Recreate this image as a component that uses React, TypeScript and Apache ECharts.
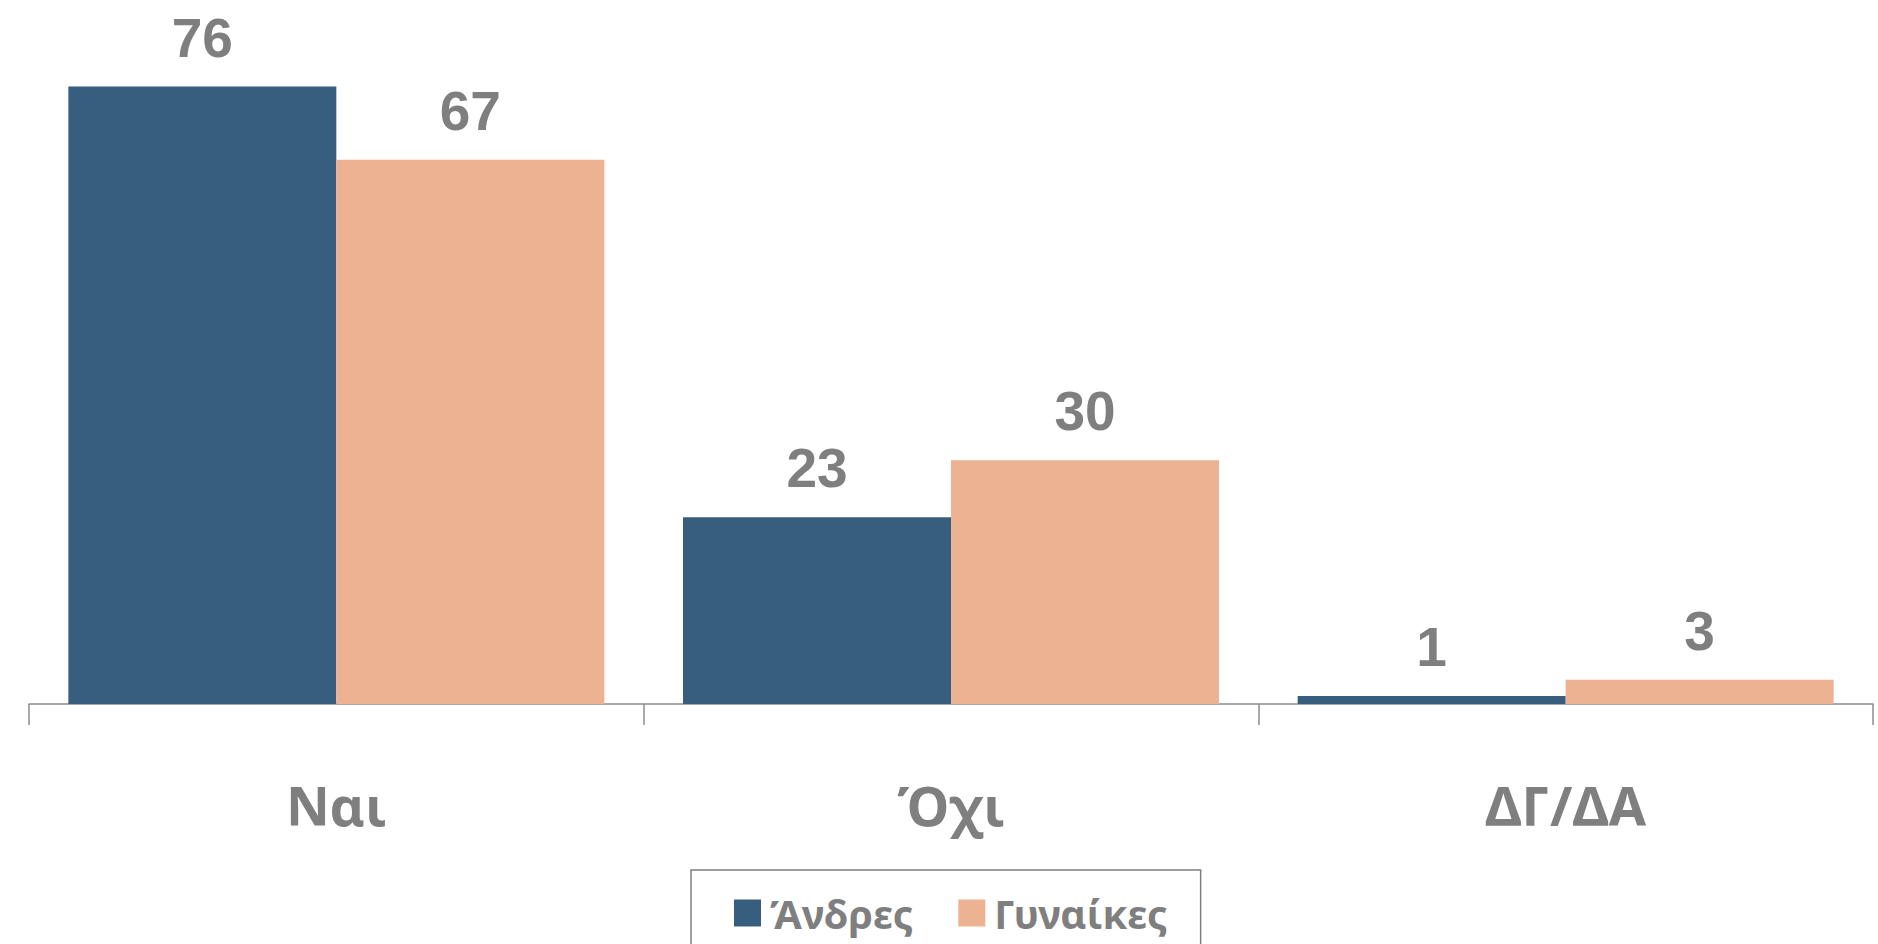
import React, { useEffect, useRef } from "react";
import * as echarts from "echarts";

const categories = ["Ναι", "Όχι", "ΔΓ/ΔΑ"];
const seriesNames = ["Άνδρες", "Γυναίκες"];
const men = [76, 23, 1];
const women = [67, 30, 3];
const colors = ["#375E7F", "#ECB292"];

const FONT = "'Noto Sans', 'DejaVu Sans', sans-serif";
const NUM_FONT = "'Liberation Sans', Arial, sans-serif";
const GREY = "#7F7F7F";

export default function App() {
  const ref = useRef<HTMLDivElement>(null);
  useEffect(() => {
    document.body.style.margin = "0";
    const chart = echarts.init(ref.current!, null, { renderer: "svg" });
    const label = {
      show: true,
      position: "top" as const,
      distance: 27,
      color: GREY,
      fontFamily: NUM_FONT,
      fontWeight: "bold" as const,
      fontSize: 55,
      lineHeight: 44,
    };
    chart.setOption({
      animation: false,
      backgroundColor: "#ffffff",
      grid: { left: 29, right: 5, top: 54, bottom: 240, containLabel: false },
      legend: {
        left: 691,
        top: 870,
        padding: [23, 33, 60, 43],
        borderColor: GREY,
        borderWidth: 1.5,
        itemWidth: 27,
        itemHeight: 27,
        itemGap: 45,
        icon: "rect",
        textStyle: { color: GREY, fontFamily: FONT, fontWeight: "bold", fontSize: 40, padding: [0, 0, 0, 4] },
        data: seriesNames,
      },
      xAxis: {
        type: "category",
        data: categories,
        axisLine: { lineStyle: { color: "#8C8C8C", width: 1.5 } },
        axisTick: { show: true, length: 21, lineStyle: { color: "#8C8C8C", width: 1.5 } },
        axisLabel: {
          color: GREY,
          fontFamily: FONT,
          fontWeight: "bold",
          fontSize: 54,
          margin: 74,
        },
      },
      yAxis: { type: "value", min: 0, max: 80, show: false, splitLine: { show: false } },
      series: [
        {
          name: seriesNames[0],
          type: "bar",
          data: men,
          barGap: "0%",
          barCategoryGap: "12.8%",
          itemStyle: { color: colors[0] },
          label,
        },
        {
          name: seriesNames[1],
          type: "bar",
          data: women,
          barGap: "0%",
          barCategoryGap: "12.8%",
          itemStyle: { color: colors[1] },
          label,
        },
      ],
    });
    return () => chart.dispose();
  }, []);
  return <div ref={ref} style={{ width: 1878, height: 944 }} />;
}
